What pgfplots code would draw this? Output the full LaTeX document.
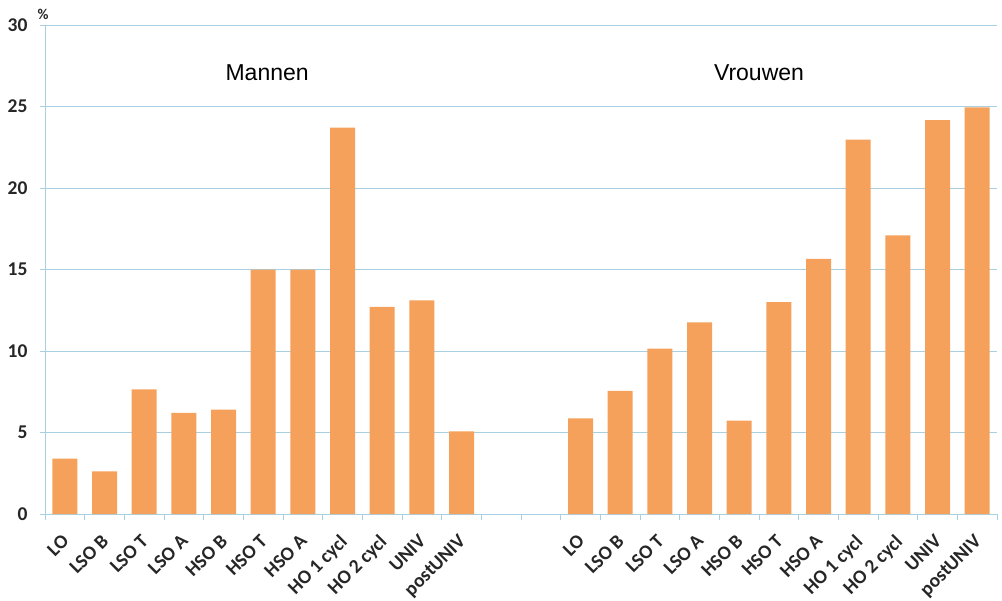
\documentclass[border=0pt]{standalone}
\usepackage{fontspec}
\setmainfont{Carlito}
\newfontfamily\titlefont{Liberation Sans}
\usepackage{pgfplots}
\usepackage{pgfplotstable}
\pgfplotsset{compat=1.18}
\definecolor{barorange}{HTML}{F6A15B}
\definecolor{gridblue}{HTML}{A9CFE3}

% Mannen: categorieen op 0..10
\pgfplotstableread{
x y
0 3.40
1 2.62
2 7.65
3 6.20
4 6.40
5 15.0
6 15.0
7 23.7
8 12.7
9 13.1
10 5.07
}\mannen

% Vrouwen: categorieen op 13..23
\pgfplotstableread{
x y
13 5.87
14 7.55
15 10.15
16 11.75
17 5.73
18 13.0
19 15.65
20 22.97
21 17.1
22 24.17
23 24.95
}\vrouwen

\begin{document}
\begin{tikzpicture}
\begin{axis}[
    scale only axis,
    width=952pt, height=489pt,
    xmin=-0.5, xmax=23.5,
    ymin=0, ymax=30,
    ytick={0,5,...,30},
    ymajorgrids,
    grid style={gridblue, line width=1pt},
    axis x line*=bottom, axis y line*=left,
    axis line style={gridblue, line width=1pt, -},
    xtick={0,...,10,13,14,...,23},
    xticklabels={LO,LSO B,LSO T,LSO A,HSO B,HSO T,HSO A,HO 1 cycl,HO 2 cycl,UNIV,postUNIV,
                 LO,LSO B,LSO T,LSO A,HSO B,HSO T,HSO A,HO 1 cycl,HO 2 cycl,UNIV,postUNIV},
    major x tick style={draw=none},
    minor xtick={-0.5,0.5,...,23.5},
    minor x tick style={gridblue, line width=1pt},
    ytick style={gridblue, line width=1pt},
    tick align=outside,
    major tick length=5pt, minor tick length=6pt,
    tick label style={font=\bfseries\fontsize{19.5}{21}\selectfont, text=black!85},
    /pgf/number format/assume math mode=true,
    yticklabel style={xshift=-9pt},
    xticklabel style={xshift=-4pt, yshift=-14pt, rotate=45, anchor=north east, inner sep=0pt},
    ybar, bar width=25pt,
    clip=false,
]
\addplot[fill=barorange, draw=none, bar shift=0pt] table[x=x, y=y] {\mannen};
\addplot[fill=barorange, draw=none, bar shift=0pt] table[x=x, y=y] {\vrouwen};
\node[font=\titlefont\fontsize{23}{26}\selectfont] at (axis cs:5.1,27.1) {Mannen};
\node[font=\titlefont\fontsize{23}{26}\selectfont] at (axis cs:17.5,27.1) {Vrouwen};
\node[anchor=south, font=\bfseries\fontsize{15}{17}\selectfont, inner sep=0pt, yshift=5pt, xshift=-2pt, text=black!85] at (rel axis cs:0,1) {\%};
\end{axis}
\pgfresetboundingbox
\path[use as bounding box] ([shift={(-45pt,-86pt)}]current axis.south west) rectangle ([shift={(5pt,25pt)}]current axis.north east);
\end{tikzpicture}
\end{document}
